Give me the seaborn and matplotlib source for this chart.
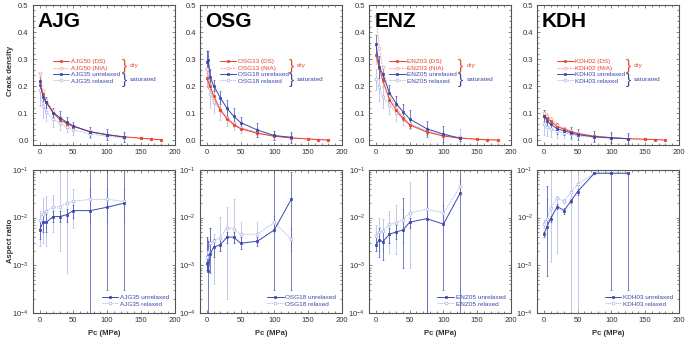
import numpy as np
import matplotlib
matplotlib.use("Agg")
import matplotlib.pyplot as plt
from matplotlib.lines import Line2D
from matplotlib.ticker import AutoMinorLocator, LogLocator, NullFormatter, MultipleLocator
import seaborn as sns

# ---------------- data ----------------
SAMPLES = ["AJG", "OSG", "ENZ", "KDH"]
DRY_NAMES = ["AJG50", "OSG13", "ENZ03", "KDH02"]
SAT_NAMES = ["AJG35", "OSG18", "ENZ05", "KDH03"]

P_DRY = [0, 5, 10, 20, 30, 40, 50, 75, 100, 125, 150, 165, 180]
P_SAT = [0, 5, 10, 20, 30, 40, 50, 75, 100, 125]
P_SAT_OSG = [0, 2.5, 5, 10, 20, 30, 40, 50, 75, 100, 125]

# crack density
AJG_DS = [0.205, 0.170, 0.140, 0.100, 0.075, 0.061, 0.050, 0.031, 0.019, 0.012, 0.007, 0.004, 0.001]
AJG_NIA = [0.248, 0.180, 0.150, 0.108, 0.080, 0.064, 0.052, 0.032, 0.020, 0.012, 0.007, 0.004, 0.001]
AJG_UNREL = [0.218, 0.160, 0.140, 0.102, 0.083, 0.066, 0.052, 0.030, 0.020, 0.011]
AJG_REL = [0.185, 0.125, 0.105, 0.078, 0.062, 0.048, 0.038, 0.022, 0.014, 0.008]
AJG_DS_ERR = [0.020, 0.015, 0.012, 0.010, 0.008, 0.006, 0.005, 0.004, 0.003, 0.002, 0.002, 0.001, 0.001]
AJG_UNREL_ERR = [0.015, 0.015, 0.020, 0.015, 0.025, 0.020, 0.015, 0.020, 0.020, 0.020]
AJG_REL_ERR = [0.060, 0.045, 0.035, 0.030, 0.025, 0.020, 0.020, 0.015, 0.015, 0.015]

OSG_DS = [0.228, 0.200, 0.165, 0.112, 0.078, 0.057, 0.042, 0.025, 0.014, 0.008, 0.004, 0.002, 0.000]
OSG_NIA = [0.265, 0.205, 0.150, 0.115, 0.082, 0.060, 0.045, 0.027, 0.015, 0.009, 0.004, 0.002, 0.000]
OSG_UNREL = [0.290, 0.295, 0.235, 0.202, 0.157, 0.117, 0.088, 0.065, 0.037, 0.017, 0.010]
OSG_REL = [0.265, 0.250, 0.170, 0.140, 0.110, 0.082, 0.062, 0.046, 0.028, 0.015, 0.008]
OSG_DS_ERR = [0.030, 0.025, 0.020, 0.015, 0.012, 0.008, 0.006, 0.005, 0.004, 0.003, 0.002, 0.001, 0.001]
OSG_UNREL_ERR = [0.040, 0.035, 0.030, 0.020, 0.025, 0.030, 0.030, 0.020, 0.025, 0.015, 0.020]
OSG_REL_ERR = [0.070, 0.060, 0.050, 0.040, 0.035, 0.030, 0.025, 0.020, 0.015, 0.015, 0.015]

ENZ_DS = [0.315, 0.268, 0.222, 0.150, 0.110, 0.080, 0.056, 0.030, 0.015, 0.007, 0.003, 0.001, 0.000]
ENZ_NIA = [0.460, 0.340, 0.270, 0.165, 0.120, 0.085, 0.060, 0.032, 0.016, 0.008, 0.004, 0.002, 0.000]
ENZ_UNREL = [0.355, 0.270, 0.245, 0.175, 0.135, 0.105, 0.078, 0.042, 0.022, 0.006]
ENZ_REL = [0.225, 0.195, 0.160, 0.130, 0.100, 0.080, 0.060, 0.035, 0.020, 0.010]
ENZ_DS_ERR = [0.035, 0.030, 0.025, 0.020, 0.015, 0.010, 0.008, 0.006, 0.004, 0.003, 0.002, 0.001, 0.001]
ENZ_UNREL_ERR = [0.035, 0.040, 0.030, 0.030, 0.030, 0.030, 0.035, 0.030, 0.030, 0.010]
ENZ_REL_ERR = [0.040, 0.050, 0.040, 0.035, 0.030, 0.025, 0.020, 0.015, 0.015, 0.030]

KDH_DS = [0.088, 0.082, 0.070, 0.050, 0.040, 0.031, 0.024, 0.014, 0.009, 0.005, 0.003, 0.002, 0.000]
KDH_NIA = [0.100, 0.090, 0.078, 0.056, 0.044, 0.034, 0.026, 0.015, 0.009, 0.005, 0.003, 0.002, 0.000]
KDH_UNREL = [0.090, 0.072, 0.058, 0.042, 0.034, 0.027, 0.020, 0.012, 0.008, 0.005]
KDH_REL = [0.060, 0.050, 0.042, 0.032, 0.026, 0.021, 0.016, 0.010, 0.007, 0.004]
KDH_DS_ERR = [0.025, 0.020, 0.015, 0.012, 0.010, 0.008, 0.006, 0.004, 0.003, 0.002, 0.002, 0.001, 0.001]
KDH_UNREL_ERR = [0.020, 0.020, 0.020, 0.020, 0.015, 0.020, 0.020, 0.020, 0.020, 0.020]
KDH_REL_ERR = [0.040, 0.035, 0.030, 0.025, 0.020, 0.020, 0.015, 0.015, 0.015, 0.015]

# aspect ratio (value, lower bound, upper bound)
AJG_AR_UNREL = [0.0055, 0.0080, 0.0080, 0.0105, 0.0105, 0.0115, 0.0140, 0.0140, 0.0165, 0.0200]
AJG_AR_UNREL_LO = [0.0035, 0.0050, 0.0050, 0.0080, 0.0080, 0.0080, 0.0100, 0.00001, 0.0003, 0.0003]
AJG_AR_UNREL_HI = [0.0090, 0.0120, 0.0120, 0.0140, 0.0140, 0.0150, 0.0180, 0.2, 0.2, 0.2]
AJG_AR_REL = [0.0090, 0.0120, 0.0140, 0.0165, 0.0170, 0.0200, 0.0220, 0.0240, 0.0240, 0.0220]
AJG_AR_REL_LO = [0.0025, 0.0030, 0.0025, 0.0050, 0.0020, 0.0007, 0.0060, 0.0080, 0.0080, 0.0080]
AJG_AR_REL_HI = [0.0140, 0.0260, 0.0280, 0.0300, 0.0900, 0.0900, 0.0400, 0.0400, 0.0400, 0.0400]

OSG_AR_UNREL = [0.0011, 0.00075, 0.0017, 0.0024, 0.0027, 0.0039, 0.0039, 0.0029, 0.0032, 0.0055, 0.0240]
OSG_AR_UNREL_LO = [0.0008, 0.00001, 0.0007, 0.0015, 0.0020, 0.0030, 0.0030, 0.0022, 0.0025, 0.0003, 0.0003]
OSG_AR_UNREL_HI = [0.0040, 0.0033, 0.0060, 0.0035, 0.0035, 0.0050, 0.0050, 0.0040, 0.0040, 0.2, 0.0900]
OSG_AR_REL = [0.0015, 0.0019, 0.0030, 0.0033, 0.0038, 0.0062, 0.0058, 0.0045, 0.0045, 0.0080, 0.0035]
OSG_AR_REL_LO = [0.0008, 0.0010, 0.0015, 0.0004, 0.0020, 0.0002, 0.0030, 0.0030, 0.0030, 0.0050, 0.0020]
OSG_AR_REL_HI = [0.0040, 0.0035, 0.0060, 0.0045, 0.0105, 0.0170, 0.0240, 0.0080, 0.0080, 0.0110, 0.0060]

ENZ_AR_UNREL = [0.0027, 0.0034, 0.0031, 0.0045, 0.0050, 0.0055, 0.0080, 0.0095, 0.0073, 0.0330]
ENZ_AR_UNREL_LO = [0.0020, 0.0015, 0.0013, 0.0030, 0.0035, 0.0009, 0.0060, 0.00001, 0.0003, 0.00001]
ENZ_AR_UNREL_HI = [0.0040, 0.0060, 0.0050, 0.0060, 0.0070, 0.0260, 0.0100, 0.2, 0.2, 0.2]
ENZ_AR_REL = [0.0042, 0.0050, 0.0052, 0.0072, 0.0078, 0.0090, 0.0125, 0.0150, 0.0125, 0.0450]
ENZ_AR_REL_LO = [0.0025, 0.0020, 0.0020, 0.0018, 0.0017, 0.0030, 0.0009, 0.00001, 0.0080, 0.0300]
ENZ_AR_REL_HI = [0.0070, 0.0100, 0.0095, 0.0140, 0.0180, 0.0150, 0.0550, 0.2, 0.0180, 0.0600]

KDH_AR_UNREL = [0.0045, 0.0065, 0.0095, 0.0170, 0.0140, 0.0220, 0.0350, 0.0850, 0.0850, 0.0850]
KDH_AR_UNREL_LO = [0.0040, 0.0006, 0.0080, 0.0150, 0.0120, 0.0200, 0.0300, 0.0850, 0.0003, 0.0003]
KDH_AR_UNREL_HI = [0.0050, 0.0450, 0.0110, 0.0190, 0.0160, 0.0250, 0.0400, 0.0850, 0.0850, 0.0850]
KDH_AR_REL = [0.0075, 0.0095, 0.0160, 0.0260, 0.0220, 0.0340, 0.0500, 0.0850, 0.0850, 0.0850]
KDH_AR_REL_LO = [0.0060, 0.0080, 0.0012, 0.0018, 0.0200, 0.00001, 0.00001, 0.0850, 0.0850, 0.0850]
KDH_AR_REL_HI = [0.0090, 0.0240, 0.0900, 0.0290, 0.0250, 0.2, 0.2, 0.0850, 0.0850, 0.0850]

# ---------------- style ----------------
sns.set_style("ticks")
plt.rcParams["font.family"] = ["Liberation Sans", "DejaVu Sans"]
plt.rcParams["mathtext.fontset"] = "custom"
plt.rcParams["mathtext.rm"] = "Liberation Sans"
plt.rcParams["mathtext.it"] = "Liberation Sans"

RED = "#e8412c"
PINK = "#f2a596"
BLUE = "#3a48ad"
LBLUE = "#a9b2e3"
FRAME = "#555555"
TXT = "#333333"
LEG_FS = 4.6
MS = 2.1

fig = plt.figure(figsize=(6.85, 3.37), dpi=100)
lefts = [0.048, 0.292, 0.539, 0.784]
W = 0.207

top_data = [
    (AJG_DS, AJG_NIA, AJG_UNREL, AJG_REL, AJG_DS_ERR, AJG_UNREL_ERR, AJG_REL_ERR, P_SAT),
    (OSG_DS, OSG_NIA, OSG_UNREL, OSG_REL, OSG_DS_ERR, OSG_UNREL_ERR, OSG_REL_ERR, P_SAT_OSG),
    (ENZ_DS, ENZ_NIA, ENZ_UNREL, ENZ_REL, ENZ_DS_ERR, ENZ_UNREL_ERR, ENZ_REL_ERR, P_SAT),
    (KDH_DS, KDH_NIA, KDH_UNREL, KDH_REL, KDH_DS_ERR, KDH_UNREL_ERR, KDH_REL_ERR, P_SAT),
]
bot_data = [
    (AJG_AR_UNREL, AJG_AR_UNREL_LO, AJG_AR_UNREL_HI, AJG_AR_REL, AJG_AR_REL_LO, AJG_AR_REL_HI, P_SAT),
    (OSG_AR_UNREL, OSG_AR_UNREL_LO, OSG_AR_UNREL_HI, OSG_AR_REL, OSG_AR_REL_LO, OSG_AR_REL_HI, P_SAT_OSG),
    (ENZ_AR_UNREL, ENZ_AR_UNREL_LO, ENZ_AR_UNREL_HI, ENZ_AR_REL, ENZ_AR_REL_LO, ENZ_AR_REL_HI, P_SAT),
    (KDH_AR_UNREL, KDH_AR_UNREL_LO, KDH_AR_UNREL_HI, KDH_AR_REL, KDH_AR_REL_LO, KDH_AR_REL_HI, P_SAT),
]


def style_axes(ax):
    for s in ax.spines.values():
        s.set_color(FRAME)
        s.set_linewidth(0.8)
    ax.tick_params(which="both", direction="in", top=True, right=True,
                   colors=FRAME, labelcolor=TXT, labelsize=5.5, width=0.5, pad=3)
    ax.tick_params(which="major", length=2.5)
    ax.tick_params(which="minor", length=1.3)


def draw(ax, x, y, color, ls, marker, mfc, lw=0.7):
    sns.lineplot(x=x, y=y, ax=ax, color=color, linestyle=ls, linewidth=lw,
                 marker=marker, markersize=MS, markerfacecolor=mfc,
                 markeredgecolor=color, markeredgewidth=0.5,
                 estimator=None, sort=False, legend=False)


def handle(color, ls, marker, mfc, lw=0.7):
    return Line2D([], [], color=color, ls=ls, lw=lw, marker=marker, ms=MS,
                  mfc=mfc, mec=color, mew=0.5)


err_kw = dict(fmt="none", elinewidth=0.5, capsize=1.0, capthick=0.4)
DASH = (0, (2.5, 1.2))
DOT = (0, (1.5, 1.0))

for i, name in enumerate(SAMPLES):
    ds, nia, unrel, rel, ds_e, un_e, rel_e, psat = top_data[i]
    ax = fig.add_axes([lefts[i], 0.570, W, 0.415])
    ax.errorbar(psat, rel, yerr=rel_e, ecolor=LBLUE, **err_kw)
    ax.errorbar(P_DRY, ds, yerr=ds_e, ecolor=PINK, **err_kw)
    ax.errorbar(psat, unrel, yerr=un_e, ecolor=BLUE, **err_kw)
    draw(ax, psat, rel, LBLUE, DOT, "o", "white", 0.6)
    draw(ax, P_DRY, nia, PINK, DASH, "o", "white", 0.6)
    draw(ax, P_DRY, ds, RED, "-", "s", RED)
    draw(ax, psat, unrel, BLUE, "-", "s", BLUE)
    ax.set_xlim(-10, 200)
    ax.set_ylim(-0.018, 0.5)
    ax.xaxis.set_major_locator(MultipleLocator(50))
    ax.xaxis.set_minor_locator(AutoMinorLocator(5))
    ax.yaxis.set_major_locator(MultipleLocator(0.1))
    ax.yaxis.set_minor_locator(AutoMinorLocator(5))
    ax.yaxis.set_major_formatter(matplotlib.ticker.FormatStrFormatter("%.1f"))
    ax.set_xlabel("")
    ax.set_ylabel("")
    style_axes(ax)
    ax.text(0.035, 0.845, name, transform=ax.transAxes, fontsize=15,
            fontweight="bold", color="black", va="baseline", ha="left")
    handles = [handle(RED, "-", "s", RED), handle(PINK, DASH, "o", "white", 0.6),
               handle(BLUE, "-", "s", BLUE), handle(LBLUE, DOT, "o", "white", 0.6)]
    labels = [f"{DRY_NAMES[i]} (DS)", f"{DRY_NAMES[i]} (NIA)",
              f"{SAT_NAMES[i]} unrelaxed", f"{SAT_NAMES[i]} relaxed"]
    leg = ax.legend(handles, labels, loc="upper left", bbox_to_anchor=(0.14, 0.615),
                    frameon=False, fontsize=LEG_FS, handlelength=2.6, handletextpad=0.25,
                    labelspacing=0.15, numpoints=1, borderpad=0, borderaxespad=0)
    for t, c in zip(leg.get_texts(), [RED, RED, BLUE, BLUE]):
        t.set_color(c)
    ax.text(0.625, 0.565, "}", transform=ax.transAxes, fontsize=11, color=RED,
            va="center", ha="left")
    ax.text(0.685, 0.568, "dry", transform=ax.transAxes, fontsize=LEG_FS, color=RED,
            va="center", ha="left")
    ax.text(0.625, 0.462, "}", transform=ax.transAxes, fontsize=11, color=BLUE,
            va="center", ha="left")
    ax.text(0.685, 0.468, "saturated", transform=ax.transAxes, fontsize=LEG_FS, color=BLUE,
            va="center", ha="left")

for i, name in enumerate(SAMPLES):
    un, un_lo, un_hi, rl, rl_lo, rl_hi, psat = bot_data[i]
    ax = fig.add_axes([lefts[i], 0.071, W, 0.425])
    un_a, rl_a = np.array(un), np.array(rl)
    ax.errorbar(psat, rl_a, yerr=[rl_a - np.array(rl_lo), np.array(rl_hi) - rl_a],
                ecolor=LBLUE, **err_kw)
    ax.errorbar(psat, un_a, yerr=[un_a - np.array(un_lo), np.array(un_hi) - un_a],
                ecolor=BLUE, **err_kw)
    draw(ax, psat, rl, LBLUE, DOT, "o", "white", 0.6)
    draw(ax, psat, un, BLUE, "-", "s", BLUE)
    ax.set_yscale("log")
    ax.set_xlim(-10, 200)
    ax.set_ylim(1e-4, 1e-1)
    ax.xaxis.set_major_locator(MultipleLocator(50))
    ax.xaxis.set_minor_locator(AutoMinorLocator(5))
    ax.yaxis.set_major_locator(LogLocator(base=10, numticks=10))
    ax.yaxis.set_minor_locator(LogLocator(base=10, subs=np.arange(2, 10), numticks=20))
    ax.yaxis.set_minor_formatter(NullFormatter())
    ax.set_xlabel("")
    ax.set_ylabel("")
    style_axes(ax)
    handles = [handle(BLUE, "-", "s", BLUE), handle(LBLUE, DOT, "o", "white", 0.6)]
    labels = [f"{SAT_NAMES[i]} unrelaxed", f"{SAT_NAMES[i]} relaxed"]
    leg = ax.legend(handles, labels, loc="lower right", bbox_to_anchor=(0.96, 0.045),
                    frameon=False, fontsize=LEG_FS, handlelength=2.6, handletextpad=0.25,
                    labelspacing=0.15, numpoints=1, borderpad=0, borderaxespad=0)
    for t in leg.get_texts():
        t.set_color(BLUE)
    ax.text(0.5, -0.14, "Pc (MPa)", transform=ax.transAxes, fontsize=5.5,
            fontweight="bold", ha="center", va="center", color=TXT)

fig.text(0.015, 0.79, "Crack density", rotation=90, fontsize=5.5, fontweight="bold",
         ha="center", va="center", color=TXT)
fig.text(0.015, 0.285, "Aspect ratio", rotation=90, fontsize=5.5, fontweight="bold",
         ha="center", va="center", color=TXT)

fig.savefig("out.png", dpi=100)
